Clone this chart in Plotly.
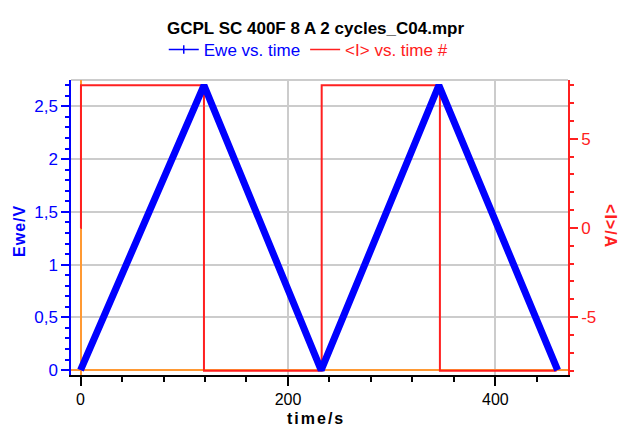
import plotly.graph_objects as go

# ---- data ----
t_ewe = [0, 119, 232, 345.5, 460]
ewe_v = [0.0, 2.70, 0.0, 2.70, 0.0]

t_cur = [0, 0.4, 119, 232.5, 346.5, 459]
cur_a = [0.0, 8.0, -8.0, 8.0, -8.0, -8.0]

title_text = "GCPL SC 400F 8 A 2 cycles_C04.mpr"
ewe_name = "Ewe vs. time"
cur_name = "&lt;I&gt; vs. time #"

cur_tickvals = [-5, 0, 5]
cur_ticktext = ["-5", "0", "5"]

FONT = "Liberation Sans, Arial, sans-serif"
BLUE = "#0000ff"
RED = "#ff2020"
ORANGE = "#ff9933"
GRID = "#cccccc"

fig = go.Figure()

# current (right axis, base subplot)
fig.add_trace(go.Scatter(
    x=t_cur, y=cur_a, mode="lines", line=dict(color=RED, width=2, shape="hv"),
    yaxis="y", showlegend=False, hoverinfo="skip"))

# Ewe (left axis, overlaying)
fig.add_trace(go.Scatter(
    x=t_ewe, y=ewe_v, mode="lines", line=dict(color=BLUE, width=7),
    yaxis="y2", showlegend=False, hoverinfo="skip"))

# legend entries
fig.add_trace(go.Scatter(
    x=[None], y=[None], mode="lines+markers",
    line=dict(color=BLUE, width=1.5),
    marker=dict(symbol="line-ns-open", size=6, color=BLUE, line=dict(color=BLUE, width=1.5)),
    name=f"<span style='color:{BLUE}'>{ewe_name}</span>", yaxis="y2"))
fig.add_trace(go.Scatter(
    x=[None], y=[None], mode="lines", line=dict(color=RED, width=1.5),
    name=f"<span style='color:{RED}'>{cur_name}</span>", yaxis="y"))

fig.update_layout(
    width=619, height=427,
    margin=dict(l=71, r=51, t=72, b=52),
    paper_bgcolor="white", plot_bgcolor="white",
    separators=",.",
    font=dict(family=FONT, size=17, color="black"),
    showlegend=True,
    legend=dict(orientation="h", xref="container", yref="container",
                x=0.498, y=1 - 50 / 427, xanchor="center", yanchor="middle",
                font=dict(size=17), bgcolor="rgba(0,0,0,0)", itemwidth=30,
                tracegroupgap=0),
    xaxis=dict(
        range=[-9.2, 470], dtick=200, tick0=0,
        showline=True, linecolor="black", linewidth=1.5,
        ticks="outside", ticklen=9, tickwidth=1.5, tickcolor="black",
        minor=dict(dtick=40, tick0=0, ticks="outside", ticklen=5, tickwidth=1.5,
                   tickcolor="black", showgrid=False),
        showgrid=True, gridcolor=GRID, gridwidth=2,
        zeroline=True, zerolinecolor=ORANGE, zerolinewidth=2,
        tickfont=dict(size=16, color="black"),
        anchor="y",
    ),
    yaxis=dict(
        side="right", range=[-8.24, 8.29],
        tickvals=cur_tickvals, ticktext=cur_ticktext,
        showline=True, linecolor=RED, linewidth=1.5,
        ticks="outside", ticklen=8, tickwidth=1.5, tickcolor=RED,
        minor=dict(dtick=1, tick0=0, ticks="outside", ticklen=4, tickwidth=1.5,
                   tickcolor=RED, showgrid=False),
        showgrid=False, zeroline=False,
        tickfont=dict(size=17, color=RED),
    ),
    yaxis2=dict(
        side="left", overlaying="y", range=[-0.046, 2.75],
        dtick=0.5, tick0=0,
        showline=True, linecolor=BLUE, linewidth=1.5,
        ticks="outside", ticklen=8, tickwidth=1.5, tickcolor=BLUE,
        minor=dict(dtick=0.1, tick0=0, ticks="outside", ticklen=4, tickwidth=1.5,
                   tickcolor=BLUE, showgrid=False),
        showgrid=True, gridcolor=GRID, gridwidth=2,
        zeroline=True, zerolinecolor=ORANGE, zerolinewidth=2,
        tickfont=dict(size=17, color=BLUE),
    ),
    shapes=[dict(type="line", xref="paper", yref="paper", x0=0, x1=1, y0=1, y1=1,
                 line=dict(color=GRID, width=2), layer="below")],
    annotations=[
        dict(text=f"<b>{title_text}</b>", xref="paper", yref="paper",
             x=(315 - 71) / 497, y=(375 - 19) / 303, showarrow=False,
             xanchor="center", yanchor="middle", font=dict(size=17, color="black")),
        dict(text="<b><span style='letter-spacing:1px'>Ewe/V</span></b>", xref="paper", yref="paper",
             x=(20 - 71) / 497, y=(375 - 227) / 303, showarrow=False, textangle=-90,
             xanchor="center", yanchor="middle", font=dict(size=16, color=BLUE)),
        dict(text="<b><span style='letter-spacing:1px'>&lt;I&gt;/A</span></b>", xref="paper", yref="paper",
             x=(611 - 71) / 497, y=(375 - 222) / 303, showarrow=False, textangle=90,
             xanchor="center", yanchor="middle", font=dict(size=16, color=RED)),
        dict(text="<b><span style='letter-spacing:2px'>time/s</span></b>", xref="paper", yref="paper",
             x=(316 - 71) / 497, y=0, yshift=-(418 - 375), showarrow=False,
             xanchor="center", yanchor="middle", font=dict(size=16, color="black")),
    ],
)

fig.write_html("out.html")
